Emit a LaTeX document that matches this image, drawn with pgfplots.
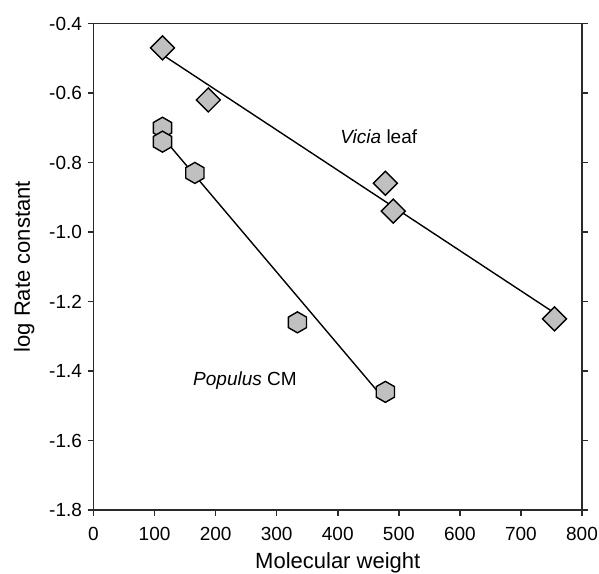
\documentclass[border=0pt]{standalone}
\usepackage{pgfplots}
\pgfplotsset{compat=1.18}
\usepackage{fontspec}
\setmainfont{Liberation Sans}
\definecolor{markgray}{HTML}{C0C0C0}
\definecolor{axgray}{HTML}{2A2A2A}
\pgfdeclareplotmark{hexa}{%
  \pgfpathmoveto{\pgfqpointpolar{90}{\pgfplotmarksize}}%
  \pgfpathlineto{\pgfqpointpolar{150}{\pgfplotmarksize}}%
  \pgfpathlineto{\pgfqpointpolar{210}{\pgfplotmarksize}}%
  \pgfpathlineto{\pgfqpointpolar{270}{\pgfplotmarksize}}%
  \pgfpathlineto{\pgfqpointpolar{330}{\pgfplotmarksize}}%
  \pgfpathlineto{\pgfqpointpolar{30}{\pgfplotmarksize}}%
  \pgfpathclose
  \pgfusepathqfillstroke}
\pgfdeclareplotmark{rdiam}{%
  \pgfpathmoveto{\pgfqpoint{0pt}{\pgfplotmarksize}}%
  \pgfpathlineto{\pgfqpoint{\pgfplotmarksize}{0pt}}%
  \pgfpathlineto{\pgfqpoint{0pt}{-\pgfplotmarksize}}%
  \pgfpathlineto{\pgfqpoint{-\pgfplotmarksize}{0pt}}%
  \pgfpathclose
  \pgfusepathqfillstroke}
\begin{document}
\begin{tikzpicture}
\begin{axis}[
  scale only axis, width=488.5pt, height=486.5pt,
  xmin=0, xmax=800, ymin=-1.8, ymax=-0.4,
  xtick={0,100,200,300,400,500,600,700,800},
  ytick={-1.8,-1.6,-1.4,-1.2,-1.0,-0.8,-0.6,-0.4},
  xtick pos=lower, ytick pos=both, yticklabel pos=left,
  tick align=outside, major tick length=6pt,
  every tick/.style={axgray, line width=1.5pt},
  axis line style={axgray, line width=1.8pt},
  tick label style={font=\fontsize{19}{22}\selectfont},
  label style={font=\fontsize{22}{26}\selectfont},
  /pgf/number format/assume math mode=true,
  yticklabel style={xshift=-2pt, /pgf/number format/.cd, fixed, fixed zerofill, precision=1},
  xticklabel style={yshift=-8pt, /pgf/number format/.cd, fixed, precision=0, 1000 sep={}},
  xlabel={Molecular weight},
  ylabel={log Rate constant},
  xlabel style={at={(axis description cs:0.5,-0.109)}, anchor=center},
  ylabel style={at={(axis description cs:-0.142,0.5)}, anchor=center},
  clip=false,
]
% regression lines
\addplot[black, line width=1.4pt] coordinates {(113,-0.490) (755,-1.233)};
\addplot[black, line width=1.4pt] coordinates {(113,-0.727) (478,-1.485)};
% Vicia leaf
\addplot[only marks, mark=rdiam, mark size=12pt,
  mark options={fill=markgray, draw=black, line width=1.4pt}]
  coordinates {(113,-0.47) (188,-0.62) (478,-0.86) (491,-0.94) (755,-1.25)};
% Populus CM
\addplot[only marks, mark=hexa, mark size=10.5pt,
  mark options={fill=markgray, draw=black, line width=1.4pt}]
  coordinates {(113,-0.70) (113,-0.74) (166,-0.83) (334,-1.26) (478,-1.46)};
\node[anchor=west, inner sep=0pt, font=\fontsize{19}{22}\selectfont] at (axis cs:404,-0.726) {\textit{Vicia} leaf};
\node[anchor=west, inner sep=0pt, font=\fontsize{19}{22}\selectfont] at (axis cs:163,-1.427) {\textit{Populus} CM};
\end{axis}
\pgfresetboundingbox
\path ([xshift=-93.5pt,yshift=-63pt]current axis.south west) rectangle ([xshift=17pt,yshift=23.5pt]current axis.north east);
\end{tikzpicture}
\end{document}
